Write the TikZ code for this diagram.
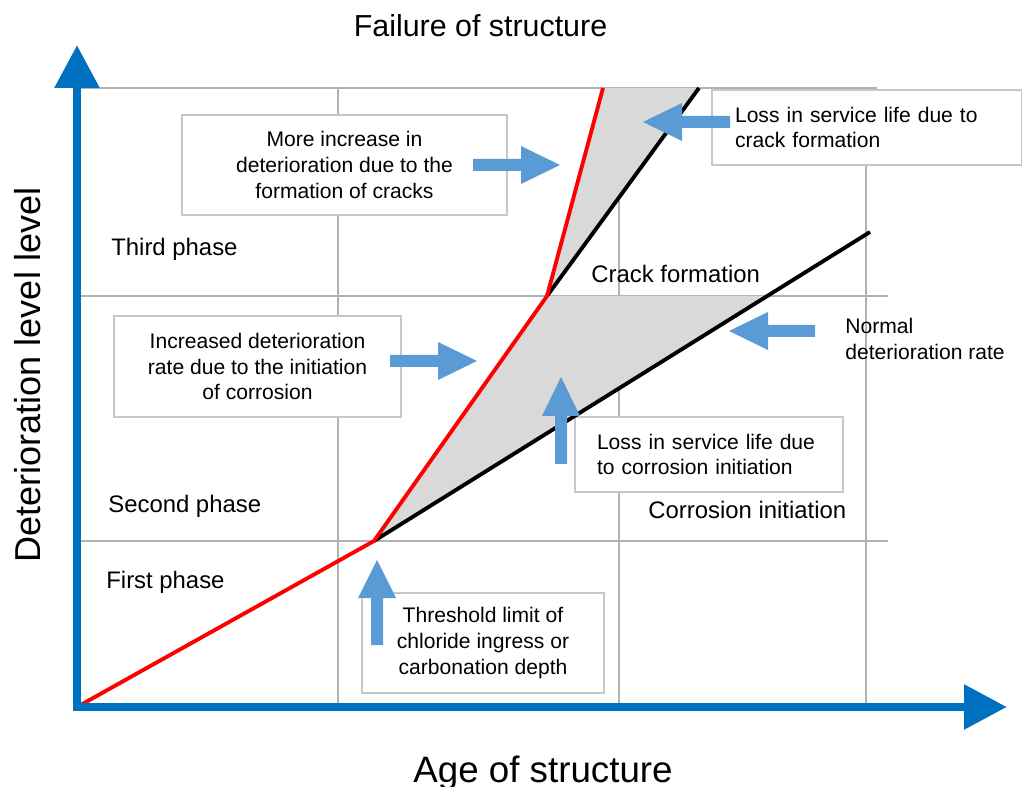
\documentclass[tikz,border=0pt]{standalone}
\usepackage{fontspec}
\setmainfont{Liberation Sans}
\usetikzlibrary{arrows.meta}
\definecolor{axisblue}{HTML}{0070C0}
\definecolor{arrowblue}{HTML}{5B9BD5}
\definecolor{gridgray}{HTML}{B2B2B2}
\definecolor{boxgray}{HTML}{C8C8C8}
\definecolor{fillgray}{HTML}{D9D9D9}
\tikzset{
  gridline/.style={draw=gridgray,line width=1.1pt},
  infobox/.style={draw=boxgray,fill=white,line width=0.7pt,inner sep=0pt,
    font=\fontsize{12}{14.7}\selectfont},
  phase/.style={anchor=base west,inner sep=0pt,font=\fontsize{13.6}{16}\selectfont},
  blockarrow/.style={fill=arrowblue},
}
\begin{document}
\begin{tikzpicture}[x=0.02cm,y=-0.02cm]
    \useasboundingbox (0,0) rectangle (1022,787);
    % corner points of the curves
    \coordinate (o) at (77,707);
    \coordinate (ci) at (374,541);
    \coordinate (cf) at (547,296);
    \coordinate (fail) at (603,88);
    \coordinate (norm) at (870,232);
    \coordinate (crk) at (699,88);
    \coordinate (ytip) at (77,45);
    \coordinate (xtip) at (1007,707);
    % grid
    \draw[gridline] (77,88) -- (877,88);
    \draw[gridline] (77,296) -- (888,296);
    \draw[gridline] (77,541) -- (888,541);
    \draw[gridline] (338,88) -- (338,707);
    \draw[gridline] (619,88) -- (619,707);
    \draw[gridline] (866,88) -- (866,707);
    % lost service life
    \fill[fillgray] (ci) -- (cf) -- (765,296) -- cycle;
    \fill[fillgray] (cf) -- (fail) -- (crk) -- cycle;
    % text boxes
    \node[infobox,minimum width=6.5cm,minimum height=2cm,align=center] (boxcracks) at (344.5,165)
      {More increase in\\deterioration due to the\\formation of cracks};
    \node[infobox,minimum width=5.74cm,minimum height=2.02cm,align=center] (boxcorr) at (257.5,366.5)
      {Increased deterioration\\rate due to the initiation\\of corrosion};
    \node[infobox,minimum height=1.5cm,text width=5.28cm,inner xsep=0.46cm,align=left] (boxlosscrack) at (867,127.5)
      {Loss in service life due to\\crack formation};
    \node[infobox,minimum height=1.5cm,text width=4.48cm,inner xsep=0.44cm,align=left] (boxlosscorr) at (709,454.5)
      {Loss in service life due\\to corrosion initiation};
    \node[infobox,minimum width=4.84cm,minimum height=2cm,align=center] (boxthreshold) at (483,643)
      {Threshold limit of\\chloride ingress or\\carbonation depth};
    % deterioration curves
    \draw[line width=2.2pt,line join=round] (ci) -- (norm);
    \draw[line width=2.2pt] (cf) -- (crk);
    \draw[red,line width=2.2pt,line join=round] (o) -- (ci) -- (cf) -- (fail);
    % axes
    \draw[axisblue,line width=5pt,
      {Triangle[length=0.86cm,width=0.86cm]}-{Triangle[length=0.86cm,width=0.86cm]}]
      (ytip) -- (o) -- (xtip);
    % block arrows
    \fill[blockarrow] (473,159) -- (521,159) -- (521,146) -- (560,165) -- (521,184) -- (521,171) -- (473,171) -- cycle;
    \fill[blockarrow] (390,355) -- (438,355) -- (438,342) -- (477,361) -- (438,380) -- (438,367) -- (390,367) -- cycle;
    \fill[blockarrow] (730,116) -- (682,116) -- (682,103) -- (643,122) -- (682,141) -- (682,128) -- (730,128) -- cycle;
    \fill[blockarrow] (815,325) -- (768,325) -- (768,312) -- (729,331) -- (768,350) -- (768,337) -- (815,337) -- cycle;
    \fill[blockarrow] (555,464) -- (555,416) -- (542,416) -- (561,377) -- (580,416) -- (567,416) -- (567,464) -- cycle;
    \fill[blockarrow] (371,645) -- (371,598) -- (358,598) -- (377,560) -- (396,598) -- (383,598) -- (383,645) -- cycle;
    % labels
    \node[anchor=base,font=\fontsize{17.3}{20}\selectfont] (failure) at (480.5,37) {Failure of structure};
    \node[anchor=base,font=\fontsize{20.9}{24}\selectfont] (age) at (543,782) {Age of structure};
    \node[anchor=base,rotate=90,font=\fontsize{20.5}{24}\selectfont] (level) at (40,375) {Deterioration level level};
    \node[phase] (third) at (111,256) {Third phase};
    \node[phase] (second) at (108,513) {Second phase};
    \node[phase] (first) at (106,588) {First phase};
    \node[phase] (crack) at (591,283) {Crack formation};
    \node[phase] (corrosion) at (648,519) {Corrosion initiation};
    \node[anchor=west,align=left,inner sep=0pt,font=\fontsize{12}{15.3}\selectfont] (normal) at (845,339)
      {Normal\\deterioration rate};
\end{tikzpicture}
\end{document}
